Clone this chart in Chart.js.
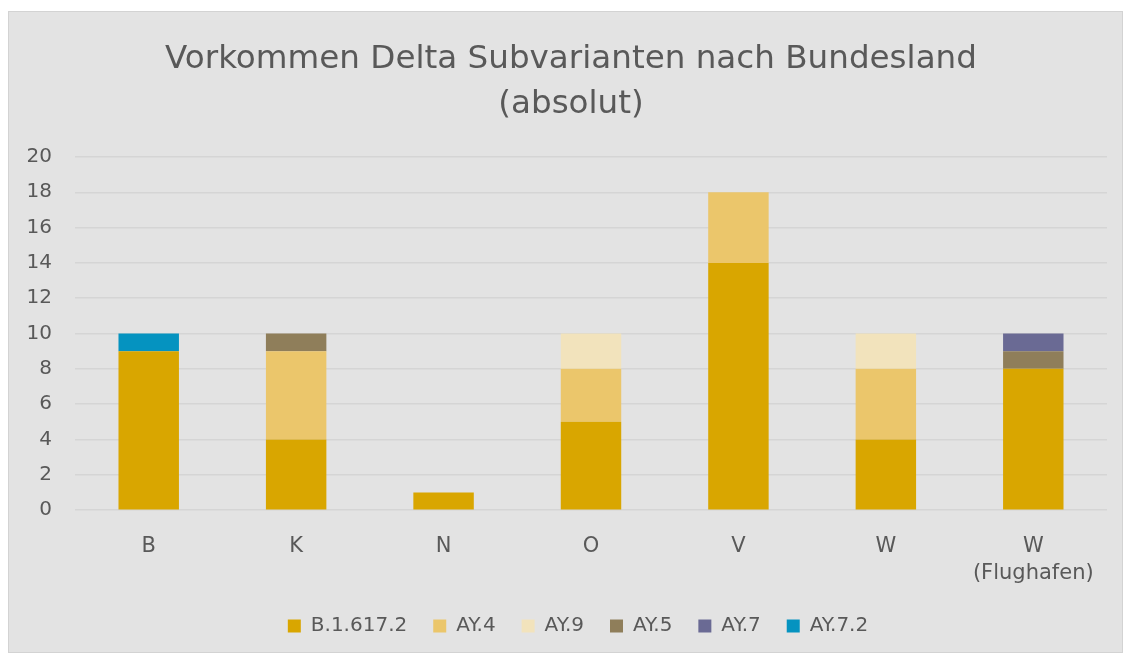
<!DOCTYPE html>
<html>
<head>
<meta charset="utf-8">
<script src="https://cdn.jsdelivr.net/npm/chart.js@4.4.0/dist/chart.umd.min.js"></script>
<style>
  html, body { margin: 0; padding: 0; background: #ffffff; }
  #box { position: absolute; left: 8px; top: 11px; width: 1113px; height: 640px;
         background: #e3e3e3; border: 1px solid #d3d3d3; }
  #box canvas { display: block; }
</style>
</head>
<body>
<div id="box"><canvas id="c" width="1113" height="640"></canvas></div>
<script>
const categories = ['B', 'K', 'N', 'O', 'V', 'W', ['W', '(Flughafen)']];
const seriesNames = ['B.1.617.2', 'AY.4', 'AY.9', 'AY.5', 'AY.7', 'AY.7.2'];
const b16172 = [9, 4, 1, 5, 14, 4, 8];
const ay4    = [0, 5, 0, 3, 4, 4, 0];
const ay9    = [0, 0, 0, 2, 0, 2, 0];
const ay5    = [0, 1, 0, 0, 0, 0, 1];
const ay7    = [0, 0, 0, 0, 0, 0, 1];
const ay72   = [1, 0, 0, 0, 0, 0, 0];
const colors = ['#D9A600', '#EBC66B', '#F2E3BC', '#8F7E5A', '#6A6A94', '#0593C0'];
const seriesValues = [b16172, ay4, ay9, ay5, ay7, ay72];

const FONT = 'DejaVu Sans';
const TXT = '#595959';

const blockShift = {
  id: 'blockShift',
  afterLayout(chart) {
    const t = chart.titleBlock;
    if (t) { t.left += 13; t.right += 13; }
    const l = chart.legend;
    if (l) { l.left += 20; l.right += 20; }
  }
};

new Chart(document.getElementById('c'), {
  type: 'bar',
  plugins: [blockShift],
  data: {
    labels: categories,
    datasets: seriesValues.map((vals, i) => ({
      label: seriesNames[i],
      data: vals,
      backgroundColor: colors[i],
      borderWidth: 0,
      categoryPercentage: 1,
      barPercentage: 0.41
    }))
  },
  options: {
    responsive: false,
    animation: false,
    layout: { padding: { left: 0, right: 15, top: 8, bottom: 6 } },
    plugins: {
      title: {
        display: true,
        text: ['Vorkommen Delta Subvarianten nach Bundesland', '(absolut)'],
        color: TXT,
        font: { family: FONT, size: 32.6, weight: 'normal', lineHeight: 1.38 },
        padding: { top: 17, bottom: 30 }
      },
      legend: {
        position: 'bottom',
        labels: {
          color: TXT,
          font: { family: FONT, size: 20 },
          boxWidth: 13, boxHeight: 13,
          padding: 26
        }
      },
      tooltip: { enabled: false }
    },
    scales: {
      x: {
        stacked: true,
        grid: { display: false },
        border: { display: false },
        ticks: { color: TXT, font: { family: FONT, size: 21, lineHeight: 1.33 }, padding: 14, maxRotation: 0 },
        afterFit: (s) => { s.height -= 12; }
      },
      y: {
        stacked: true,
        min: 0, max: 20,
        grid: { color: '#d5d5d5', lineWidth: 1.5, drawTicks: false },
        border: { display: false },
        ticks: { stepSize: 2, color: TXT, font: { family: FONT, size: 20 }, padding: 23 },
        afterFit: (s) => { s.width = 66; }
      }
    }
  }
});
</script>
</body>
</html>
